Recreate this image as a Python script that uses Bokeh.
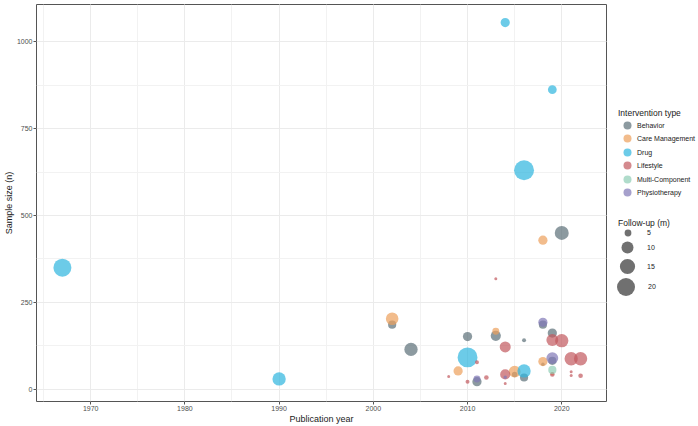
import math
from bokeh.plotting import figure
from bokeh.layouts import row
from bokeh.models import ColumnDataSource, Legend, LegendItem, SingleIntervalTicker, Range1d
from bokeh.embed import file_html
from bokeh.resources import INLINE

# ---------------- data ----------------
types = ["Behavior", "Care Management", "Drug", "Lifestyle", "Multi-Component", "Physiotherapy"]
type_colors = ["#5b6f77", "#ec9f5b", "#2db5de", "#c2585e", "#8ecdb5", "#8077b6"]

drug_year = [1967, 1990, 2014, 2019, 2016, 2010, 2016]
drug_n = [350, 30, 1055, 862, 630, 92, 53]
drug_fu = [20, 12, 7, 6.5, 24, 24, 12]

behavior_year = [2020, 2002, 2004, 2010, 2013, 2011, 2016, 2015, 2016, 2018, 2019, 2019, 2018]
behavior_n = [450, 186, 115, 152, 154, 22, 141, 43, 34, 186, 162, 82, 72]
behavior_fu = [13, 6, 12, 7, 8, 7, 3.2, 4, 6, 6, 7, 6, 3]

care_year = [2002, 2018, 2009, 2013, 2015, 2018, 2019]
care_n = [203, 429, 53, 167, 51, 80, 45]
care_fu = [11, 7, 7, 5, 10, 7, 3]

lifestyle_year = [2013, 2014, 2014, 2011, 2010, 2012, 2019, 2020, 2021, 2022, 2022, 2019, 2008, 2021, 2021, 2014]
lifestyle_n = [318, 122, 43, 78, 22, 34, 142, 140, 88, 88, 39, 43, 37, 51, 40, 17]
lifestyle_fu = [2.8, 9, 8, 3.2, 3.2, 3.5, 10, 12, 12, 12, 3.5, 3.5, 2.6, 2.6, 2.6, 2.6]

multi_year = [2019]
multi_n = [56]
multi_fu = [6]

physio_year = [2011, 2014, 2018, 2019]
physio_n = [30, 35, 193, 90]
physio_fu = [5, 3, 7, 10]

size_breaks = [5, 10, 15, 20]

series = {
    "Behavior": (behavior_year, behavior_n, behavior_fu),
    "Care Management": (care_year, care_n, care_fu),
    "Drug": (drug_year, drug_n, drug_fu),
    "Lifestyle": (lifestyle_year, lifestyle_n, lifestyle_fu),
    "Multi-Component": (multi_year, multi_n, multi_fu),
    "Physiotherapy": (physio_year, physio_n, physio_fu),
}


def marker_size(f):
    # area-proportional size scale (like ggplot's scale_size)
    return math.sqrt(max(18.3 * f - 42.7, 9.0))


all_x = [v for s in series.values() for v in s[0]]
all_y = [v for s in series.values() for v in s[1]]
xr = max(all_x) - min(all_x)
yr = max(all_y) - min(all_y)

FONT = "Liberation Sans"
ALPHA = 0.7

p = figure(width=607, height=426, output_backend="svg", toolbar_location=None,
           x_range=Range1d(min(all_x) - 0.05 * xr, max(all_x) + 0.05 * xr),
           y_range=Range1d(min(all_y) - 0.05 * yr, max(all_y) + 0.05 * yr),
           min_border_left=0, min_border_right=1, min_border_top=4, min_border_bottom=0)

p.background_fill_color = "white"
p.outline_line_color = "#555555"
p.outline_line_width = 1

p.xaxis.ticker = SingleIntervalTicker(interval=10, num_minor_ticks=2)
p.yaxis.ticker = SingleIntervalTicker(interval=250, num_minor_ticks=2)
for ax in (p.xaxis, p.yaxis):
    ax.axis_line_color = None
    ax.major_tick_line_color = "#555555"
    ax.major_tick_in = 0
    ax.major_tick_out = 3
    ax.minor_tick_line_color = None
    ax.major_label_text_font = FONT
    ax.major_label_text_font_size = "7px"
    ax.major_label_text_color = "#4d4d4d"
    ax.major_label_standoff = 0
    ax.axis_label_text_font = FONT
    ax.axis_label_text_font_size = "9px"
    ax.axis_label_text_font_style = "normal"
    ax.axis_label_text_color = "#1a1a1a"
    ax.axis_label_standoff = 0
p.xaxis.axis_label = "Publication year"
p.yaxis.axis_label = "Sample size (n)"

for g in (p.xgrid, p.ygrid):
    g.grid_line_color = "#ebebeb"
    g.grid_line_width = 1
    g.minor_grid_line_color = "#f2f2f2"
    g.minor_grid_line_width = 1

# --------------- points ---------------
for t, c in zip(types, type_colors):
    xs, ys, fs = series[t]
    src = ColumnDataSource(dict(x=xs, y=ys, s=[marker_size(f) for f in fs]))
    p.scatter("x", "y", size="s", source=src, fill_color=c, fill_alpha=ALPHA,
              line_color=None)

# ------------- legend panel (separate figure on the right) ---------------
lp = figure(width=91, height=426, output_backend="svg", toolbar_location=None,
            x_range=Range1d(0, 1), y_range=Range1d(0, 1),
            x_axis_type=None, y_axis_type=None, min_border=0)
lp.outline_line_color = None
lp.grid.visible = False

PANEL_LEFT = 607   # page x of the legend panel's left edge
PANEL_BOTTOM = 401 # page y of the legend panel frame's bottom edge (aligned with main frame)

common = dict(padding=0, margin=0, border_line_color=None, background_fill_alpha=0,
              label_text_font=FONT, label_text_font_size="7px", label_text_color="#1a1a1a")

# legend keys sit outside the panel's visible range; only their legend swatches show
KEY_X, KEY_Y = [-5], [-5]

blank = lp.scatter(x=KEY_X, y=KEY_Y, size=1, fill_alpha=0, line_alpha=0)


def add_title(text, left, center_y):
    tl = Legend(items=[LegendItem(label=" ", renderers=[blank])], title=text,
                location=(int(round(left - PANEL_LEFT)), int(round(PANEL_BOTTOM - (center_y + 6.5)))),
                glyph_height=1, glyph_width=1, label_standoff=0,
                padding=0, margin=0, border_line_color=None, background_fill_alpha=0,
                label_text_font_size="1px", title_text_font=FONT, title_text_font_size="8.5px",
                title_text_font_style="normal", title_text_color="#1a1a1a", title_standoff=0)
    lp.add_layout(tl)


add_title("Intervention type", 618, 112)
add_title("Follow-up (m)", 618, 222)

color_centers = [125 + 13.4 * i for i in range(len(types))]
for t, c, yc in zip(types, type_colors, color_centers):
    r = lp.scatter(x=KEY_X, y=KEY_Y, size=8, fill_color=c, fill_alpha=ALPHA, line_color=None)
    lg = Legend(items=[LegendItem(label=t, renderers=[r])],
                location=(617 - PANEL_LEFT, int(round(PANEL_BOTTOM - (yc + 10)))),
                glyph_height=20, glyph_width=20, label_standoff=0, **common)
    lp.add_layout(lg)

size_centers = [232.7, 246.7, 265.7, 286.7]
for f, yc in zip(size_breaks, size_centers):
    d = marker_size(f)
    r = lp.scatter(x=KEY_X, y=KEY_Y, size=d, fill_color="#333333", fill_alpha=ALPHA, line_color=None)
    g = int(round(2.5 * d))
    cx = min(627, 648 - g / 2)
    left = cx - g / 2
    bottom = yc + g / 2
    sl = Legend(items=[LegendItem(label=str(f), renderers=[r])],
                location=(int(round(left - PANEL_LEFT)), int(round(PANEL_BOTTOM - bottom))),
                glyph_height=g, glyph_width=g, label_standoff=max(0, int(round(646.7 - (left + g)))),
                **common)
    lp.add_layout(sl)

layout = row(p, lp)
open("out.html", "w").write(file_html(layout, INLINE))
